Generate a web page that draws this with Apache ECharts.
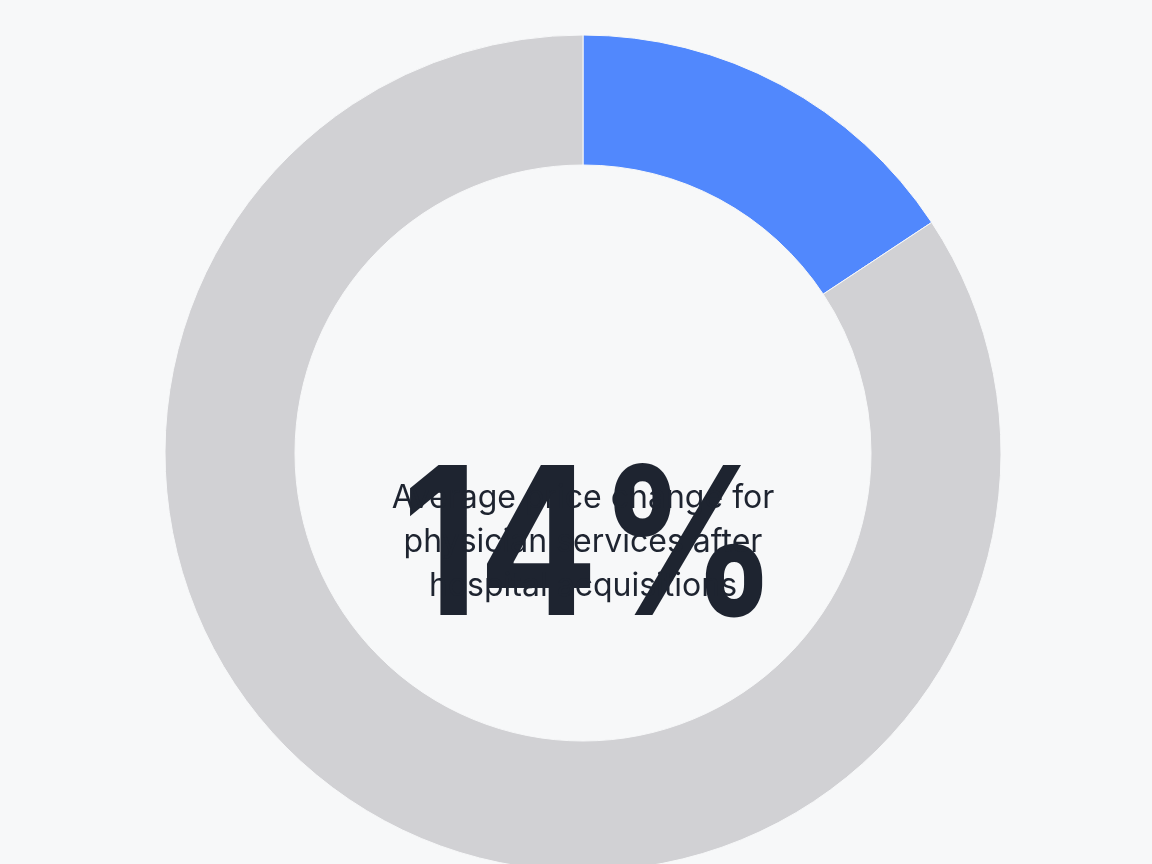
<!DOCTYPE html>
<html><head><meta charset="utf-8">
<script src="https://cdn.jsdelivr.net/npm/echarts@6/dist/echarts.min.js"></script>
<style>html,body{margin:0;background:#f7f8f9}#c{width:1152px;height:864px}</style>
</head><body><div id="c"></div>
<script>
const categories = ['Price change share', 'Remainder'];
const values = [15.7, 84.3];
const headline = '14%';
const subtitle = 'Average price change for\nphysician services after\nhospital acquisitions';
const chart = echarts.init(document.getElementById('c'));
chart.setOption({
  backgroundColor: '#f7f8f9',
  animation: false,
  series: [{
    type: 'pie',
    center: [583, 453],
    radius: [288, 418],
    startAngle: 90,
    clockwise: true,
    label: {show: false},
    emphasis: {disabled: true},
    itemStyle: {borderColor: '#f7f8f9', borderWidth: 1},
    data: categories.map((n, i) => ({name: n, value: values[i], itemStyle: {color: i === 0 ? '#5188fd' : '#d1d1d4'}}))
  }],
  graphic: [
    {type: 'text', x: 590, y: 450, scaleX: 0.86, style: {text: headline, font: 'bold 206px Inter, "Noto Sans", sans-serif', fill: '#1e2430', textAlign: 'center', textVerticalAlign: 'alphabetic'}},
    {type: 'text', x: 583, top: 476, style: {text: subtitle, font: '32px Inter, "Noto Sans", sans-serif', fill: '#1e2430', textAlign: 'center', lineHeight: 44}}
  ]
});
</script></body></html>
